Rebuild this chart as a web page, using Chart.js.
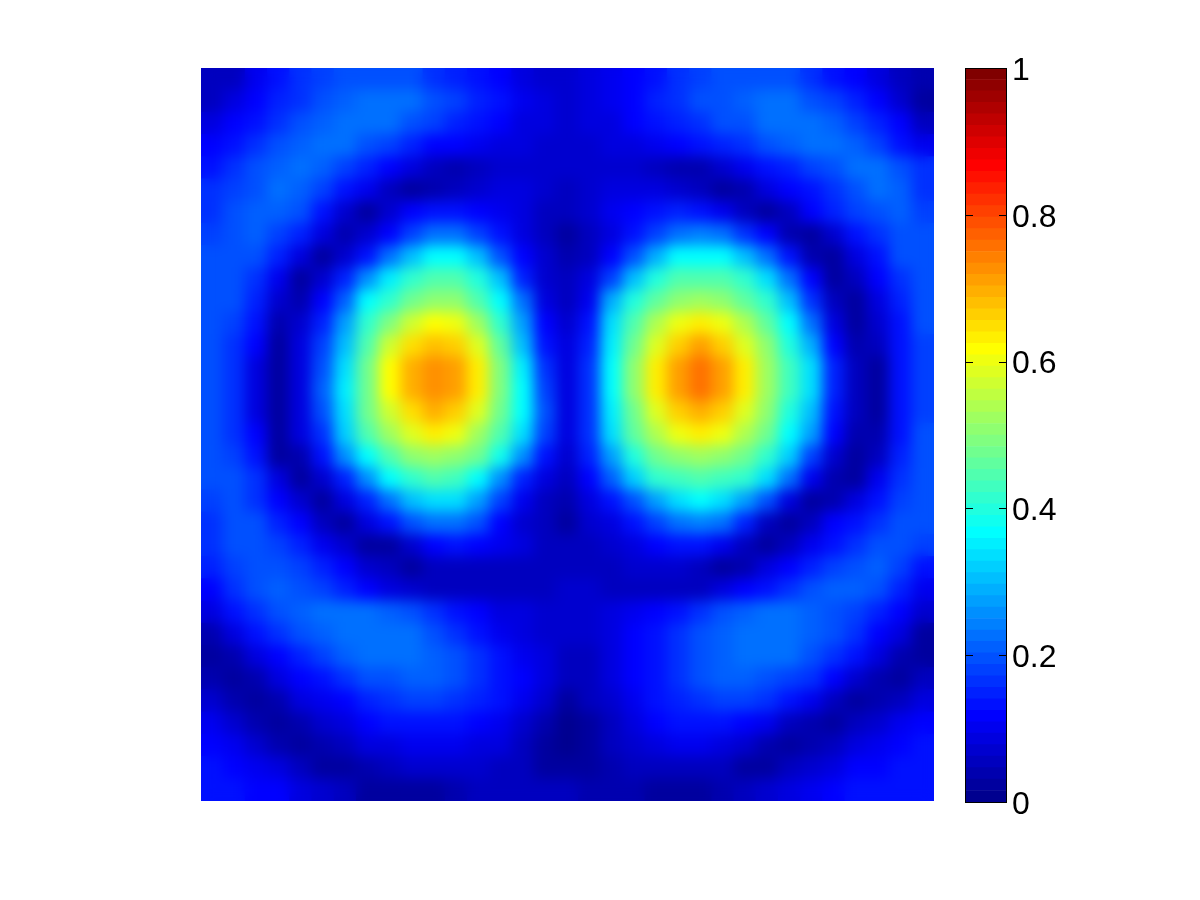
<!DOCTYPE html>
<html>
<head>
<meta charset="utf-8">
<script src="https://cdn.jsdelivr.net/npm/chart.js@4"></script>
<style>
body{margin:0;background:#fff;}
canvas{position:absolute;}
#heat{left:201px;top:68px;}
#bar{left:955px;top:38px;}
</style>
</head>
<body>
<canvas id="heat" width="733" height="733"></canvas>
<canvas id="bar" width="115" height="800"></canvas>
<script>
// values, in hundredths, one row per line (top to bottom)
var heatRows = [
[5,6,10,13,16,18,19,20,20,19,17,15,13,11,9,7,7,8,10,12,14,16,18,19,20,20,19,17,14,11,8,5,4],
[5,9,12,15,17,19,21,22,22,22,20,18,15,13,10,8,7,8,10,12,15,17,19,20,21,22,22,20,18,15,11,7,3],
[8,11,14,17,19,21,22,22,22,20,18,15,13,11,9,8,7,8,9,11,13,15,17,19,20,22,22,22,21,18,15,11,6],
[11,14,17,19,21,22,22,20,18,15,12,11,10,9,8,7,7,7,8,9,10,11,13,15,17,19,21,22,22,21,18,14,10],
[14,17,19,21,22,21,18,15,12,9,6,4,5,7,7,7,7,7,7,7,5,4,4,7,10,13,15,18,20,22,22,20,16],
[16,18,20,22,21,18,14,10,5,3,4,5,7,8,8,7,6,7,8,8,8,7,5,3,4,8,11,14,17,20,22,21,16],
[17,19,21,21,19,14,7,3,7,11,13,13,12,10,8,6,5,7,10,12,14,15,14,10,5,3,6,11,15,18,20,21,18],
[18,20,21,18,15,9,4,7,12,18,22,22,18,13,9,6,3,6,8,13,18,23,24,22,16,11,4,3,7,13,17,20,20],
[19,20,19,15,9,3,7,14,22,30,36,37,30,20,11,7,4,6,11,20,29,36,37,36,30,22,13,4,3,8,14,19,20],
[19,20,17,10,3,7,15,25,35,42,44,44,40,30,15,7,5,8,18,31,40,44,45,44,42,34,23,11,3,5,11,17,20],
[19,19,15,7,4,11,21,36,42,47,51,50,45,37,22,9,6,10,29,40,46,50,52,50,46,41,30,17,5,3,9,15,19],
[19,18,13,4,7,15,27,41,49,57,62,60,52,42,27,11,7,13,33,45,54,60,63,60,54,46,36,23,9,3,7,14,19],
[19,17,11,3,8,18,31,44,57,65,68,66,58,46,31,14,8,15,35,48,59,67,71,67,59,50,40,29,12,4,5,13,18],
[19,16,9,2,9,20,34,47,61,70,73,71,63,49,35,16,9,17,36,50,63,71,75,71,63,53,43,33,15,5,3,13,18],
[19,16,9,2,9,21,35,48,62,70,73,71,63,49,36,18,9,17,36,50,63,71,75,71,63,53,43,33,15,5,3,13,18],
[19,16,9,3,9,20,34,47,57,65,69,66,58,47,36,19,9,17,35,48,58,66,70,66,58,50,40,31,14,5,3,13,18],
[19,17,11,3,8,17,32,44,52,59,63,60,53,44,34,18,8,16,33,46,54,60,63,60,54,47,37,27,11,4,4,14,19],
[19,18,13,3,4,13,25,37,45,50,52,51,47,38,26,14,7,15,28,40,47,50,52,51,47,41,32,18,7,3,6,15,19],
[19,19,16,9,3,7,15,26,36,42,44,43,37,26,15,9,6,11,21,32,41,43,44,43,41,34,23,10,4,3,10,16,20],
[18,19,17,12,7,3,8,15,23,30,34,34,28,18,10,6,4,9,14,20,28,34,36,34,27,19,8,3,4,8,13,18,20],
[17,20,19,15,11,5,3,8,13,19,23,23,19,12,7,5,2,7,9,13,18,22,24,22,15,6,3,6,11,14,17,20,20],
[16,19,20,18,15,10,7,3,3,7,12,13,12,10,8,6,5,5,7,9,11,13,14,10,5,2,5,10,13,16,19,20,18],
[15,18,20,20,18,15,11,7,5,3,5,6,6,6,6,6,6,6,6,7,7,7,5,3,4,8,12,15,18,20,21,18,14],
[12,16,19,21,20,18,15,12,9,7,5,5,5,5,6,6,7,7,6,5,5,5,6,8,11,14,17,19,21,21,19,15,10],
[9,13,16,19,21,22,22,22,21,19,16,13,11,9,8,7,7,7,8,10,12,14,17,19,21,22,22,21,20,18,15,11,7],
[4,9,13,16,19,21,23,23,23,22,19,16,13,10,8,7,7,7,8,11,14,17,19,21,22,23,23,21,19,16,12,8,3],
[2,4,9,12,15,18,21,22,23,23,21,19,16,13,10,8,6,6,8,11,14,17,19,21,22,23,22,20,17,13,9,4,3],
[4,2,4,8,11,14,17,19,20,21,21,19,17,14,11,8,5,6,8,11,14,17,19,21,21,20,18,16,12,7,4,3,6],
[7,4,2,4,8,10,12,15,17,18,18,17,15,13,10,7,3,5,7,10,13,15,17,18,18,16,13,10,6,3,4,6,9],
[10,7,4,2,4,7,9,11,13,14,14,13,12,10,7,4,1,3,6,9,11,13,14,14,12,10,6,4,2,5,7,10,12],
[12,10,7,4,2,4,6,8,9,10,10,10,9,8,6,3,1,2,5,7,9,10,10,9,7,4,2,4,6,8,10,12,13],
[13,12,10,8,5,3,3,4,6,7,7,7,7,6,5,3,2,2,4,5,6,6,6,5,3,2,5,7,9,11,12,13,14],
[13,13,12,11,9,7,5,3,3,3,3,4,5,5,5,5,5,4,4,4,3,3,3,4,5,7,9,10,12,13,13,14,14]
];
var tickValues = [0, 0.2, 0.4, 0.6, 0.8, 1];
var colorLevels = 64;

function clamp01(v){
    return Math.max(0, Math.min(1, v));
}
// matlab jet, level 0..63
function jet(i){
    var r = clamp01(Math.min((i - 23) / 16, (71 - i) / 16));
    var g = clamp01(Math.min((i - 7) / 16, (55 - i) / 16));
    var b = clamp01(Math.min((i + 9) / 16, (39 - i) / 16));
    return 'rgb(' + Math.round(r * 255) + ',' + Math.round(g * 255) + ',' + Math.round(b * 255) + ')';
}
function levelOf(v){
    return Math.min(colorLevels - 1, Math.floor(v * colorLevels));
}

var points = [];
var pointColors = [];
heatRows.forEach(function(row, y){
    row.forEach(function(v, x){
        points.push({x: x, y: y});
        pointColors.push(jet(levelOf(v / 100)));
    });
});

// smooth the cells like shading interp, the crisp cells stay under the edges
var smoothCells = {
    id: 'smoothCells',
    afterDatasetsDraw: function(chart){
        var ctx = chart.ctx;
        ctx.save();
        ctx.filter = 'blur(7px)';
        ctx.drawImage(ctx.canvas, 0, 0);
        ctx.restore();
    }
};

new Chart(document.getElementById('heat'), {
    type: 'scatter',
    data: {
        datasets: [{
            data: points,
            pointStyle: 'rect',
            pointRadius: 16.5,
            pointBorderWidth: 0,
            pointBackgroundColor: pointColors
        }]
    },
    options: {
        responsive: false,
        animation: false,
        layout: {autoPadding: false},
        plugins: {legend: {display: false}, tooltip: {enabled: false}},
        scales: {
            x: {display: false, min: -0.5, max: heatRows[0].length - 0.5},
            y: {display: false, reverse: true, min: -0.5, max: heatRows.length - 0.5}
        }
    },
    plugins: [smoothCells]
});

// colorbar
var barSets = [];
for (var i = 0; i < colorLevels; i++) {
    barSets.push({
        data: [1 / colorLevels],
        backgroundColor: jet(i),
        borderWidth: 0,
        barPercentage: 1,
        categoryPercentage: 1,
        stack: 'levels'
    });
}

var barFrame = {
    id: 'barFrame',
    afterDatasetsDraw: function(chart){
        var ctx = chart.ctx;
        var a = chart.chartArea;
        var y = chart.scales.y;
        ctx.save();
        ctx.strokeStyle = '#000';
        ctx.lineWidth = 1;
        tickValues.forEach(function(v){
            var py = Math.round(y.getPixelForValue(v)) + 0.5;
            ctx.beginPath();
            ctx.moveTo(a.left, py);
            ctx.lineTo(a.left + 8, py);
            ctx.moveTo(a.right - 8, py);
            ctx.lineTo(a.right, py);
            ctx.stroke();
        });
        ctx.strokeRect(a.left + 0.5, a.top + 0.5, a.right - a.left - 1, a.bottom - a.top);
        ctx.restore();
    }
};

new Chart(document.getElementById('bar'), {
    type: 'bar',
    data: {labels: [''], datasets: barSets},
    options: {
        responsive: false,
        animation: false,
        layout: {padding: {left: 10, top: 30, bottom: 36}},
        plugins: {legend: {display: false}, tooltip: {enabled: false}},
        scales: {
            x: {display: false, stacked: true},
            y: {
                position: 'right',
                stacked: true,
                min: 0,
                max: 1,
                afterFit: function(s){ s.width = 63; },
                afterBuildTicks: function(s){
                    s.ticks = tickValues.map(function(v){ return {value: v}; });
                },
                grid: {display: false},
                border: {display: false},
                ticks: {
                    autoSkip: false,
                    maxRotation: 0,
                    padding: -3,
                    labelOffset: 3,
                    color: '#000',
                    font: {family: '"Liberation Sans"', size: 32},
                    callback: function(v){ return String(v); }
                }
            }
        }
    },
    plugins: [barFrame]
});
</script>
</body>
</html>
